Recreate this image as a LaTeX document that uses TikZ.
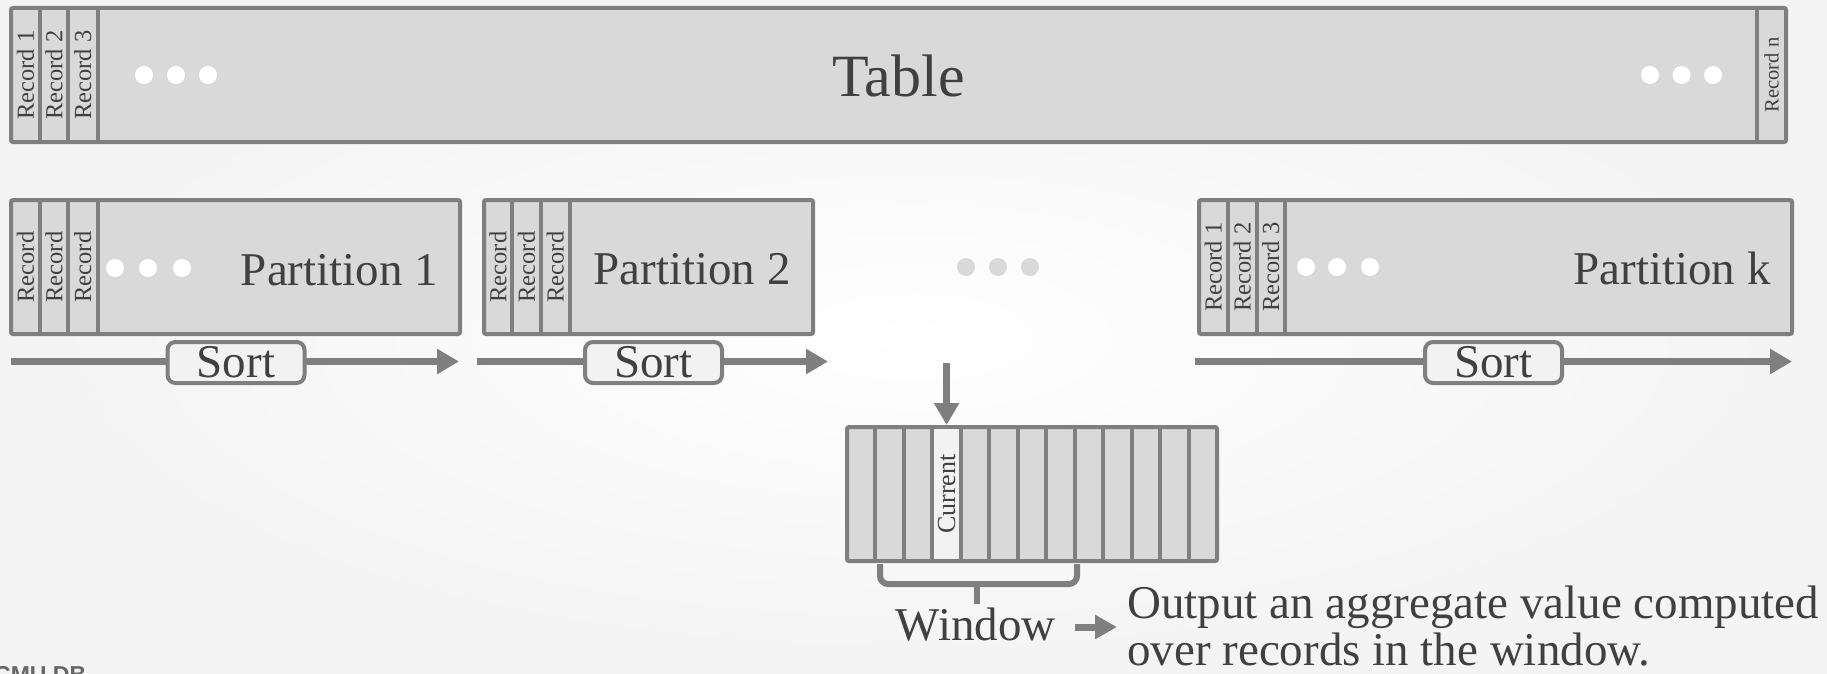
\documentclass[tikz,border=0pt]{standalone}
\usepackage{fontspec}
\setmainfont{Liberation Serif}
\newfontfamily\footfont{Liberation Sans}
\usetikzlibrary{arrows.meta}
\definecolor{bord}{HTML}{7F7F7F}
\definecolor{boxfill}{HTML}{D9D9D9}
\definecolor{lightfill}{HTML}{F2F2F2}
\definecolor{txt}{HTML}{404040}
\definecolor{footc}{HTML}{666666}
\tikzset{
 box/.style={rectangle, draw=bord, fill=boxfill, line width=4pt, rounded corners=2pt, inner sep=0pt, outer sep=0pt},
 divline/.style={draw=bord, line width=4pt},
 wdot/.style={circle, fill=white, minimum size=18pt, inner sep=0pt},
 gdot/.style={wdot, fill=boxfill},
 rec/.style={rotate=90, text=txt, inner sep=0pt, font=\fontsize{24.5}{24.5}\selectfont},
 bigtxt/.style={text=txt, inner sep=0pt, font=\fontsize{47}{47}\selectfont},
 sortbox/.style={rectangle, draw=bord, fill=lightfill, line width=4pt, rounded corners=8pt, minimum width=137pt, minimum height=41pt, inner sep=0pt, text=txt, font=\fontsize{47}{47}\selectfont},
 flow/.style={draw=bord, line width=7pt, -{Triangle[length=22pt,width=24pt]}},
 bracel/.style={draw=bord, line width=6pt},
}
\begin{document}
\begin{tikzpicture}[x=1pt,y=-1pt]
\useasboundingbox (0,0) rectangle (1827,674);
\shade[inner color=white, outer color=gray!9] (0,0) rectangle (1827,674);

% ---------- Table ----------
\node[box, minimum width=1775pt, minimum height=134pt] (table) at (898.5,75) {};
\foreach \x in {40,68,97.5,1757.3} \draw[divline] (\x,8) -- (\x,142);
\node[rec] (t1) at (25.5,75) {Record 1};
\node[rec] (t2) at (54,75) {Record 2};
\node[rec] (t3) at (82.75,75) {Record 3};
\node[rec, font=\fontsize{20.5}{20.5}\selectfont] (tn) at (1771.6,75) {Record n};
\node[wdot] (td1) at (144,75) {};
\node[wdot] (td2) at (176,75) {};
\node[wdot] (td3) at (208,75) {};
\node[wdot] (td4) at (1650,75) {};
\node[wdot] (td5) at (1681.5,75) {};
\node[wdot] (td6) at (1713,75) {};
\node[text=txt, inner sep=0pt, font=\fontsize{60}{60}\selectfont, anchor=base] (tabletxt) at (898.5,97) {Table};

% ---------- Partition 1 ----------
\node[box, minimum width=449pt, minimum height=134pt] (p1) at (235.5,267) {};
\foreach \x in {40,68,97.5} \draw[divline] (\x,200) -- (\x,334);
\node[rec] (p1r1) at (25.5,267) {Record};
\node[rec] (p1r2) at (54,267) {Record};
\node[rec] (p1r3) at (82.75,267) {Record};
\node[wdot] (p1d1) at (115,268) {};
\node[wdot] (p1d2) at (148,268) {};
\node[wdot] (p1d3) at (182,268) {};
\node[bigtxt, anchor=base] (p1txt) at (339.5,285) {Partition 1};

% ---------- Partition 2 ----------
\node[box, minimum width=329pt, minimum height=134pt] (p2) at (648.5,267) {};
\foreach \x in {512.3,540.7,570} \draw[divline] (\x,200) -- (\x,334);
\node[rec] (p2r1) at (498,267) {Record};
\node[rec] (p2r2) at (526.5,267) {Record};
\node[rec] (p2r3) at (555.3,267) {Record};
\node[bigtxt, anchor=base] (p2txt) at (692,284) {Partition 2};

% ---------- middle dots ----------
\node[gdot] (md1) at (966,267) {};
\node[gdot] (md2) at (998,267) {};
\node[gdot] (md3) at (1030,267) {};

% ---------- Partition k ----------
\node[box, minimum width=593pt, minimum height=134pt] (pk) at (1495.5,267) {};
\foreach \x in {1227.7,1256.7,1285} \draw[divline] (\x,200) -- (\x,334);
\node[rec] (pkr1) at (1213.3,267) {Record 1};
\node[rec] (pkr2) at (1242.2,267) {Record 2};
\node[rec] (pkr3) at (1270.8,267) {Record 3};
\node[wdot] (pkd1) at (1306,267) {};
\node[wdot] (pkd2) at (1337,267) {};
\node[wdot] (pkd3) at (1370,267) {};
\node[bigtxt, anchor=base] (pktxt) at (1672,284) {Partition k};

% ---------- Sort arrows ----------
\coordinate (s1a) at (11,361.5);
\coordinate (s1b) at (459,361.5);
\coordinate (s2a) at (477,361.5);
\coordinate (s2b) at (828,361.5);
\coordinate (ska) at (1195,361.5);
\coordinate (skb) at (1792,361.5);
\draw[flow] (s1a) -- (s1b);
\draw[flow] (s2a) -- (s2b);
\draw[flow] (ska) -- (skb);
\node[sortbox] (sort1) at (236,362.5) {Sort};
\node[sortbox] (sort2) at (653.5,362.5) {Sort};
\node[sortbox] (sortk) at (1493.5,362.5) {Sort};

% ---------- Window ----------
\node[box, minimum width=370pt, minimum height=134pt] (win) at (1032,494) {};
\fill[lightfill] (932.4,429) rectangle (960.8,559);
\foreach \i in {1,...,12} \draw[divline] ({847+28.4615*\i},427) -- ({847+28.4615*\i},561);
\node[rec, font=\fontsize{26}{26}\selectfont] (cur) at (946.6,494) {Current};
\coordinate (downstart) at (946.6,363);
\coordinate (curtop) at (946.6,425);
\draw[flow] (downstart) -- (curtop);

% brace
\coordinate (bl) at (880,564);
\coordinate (br) at (1077,564);
\draw[bracel, rounded corners=8pt] (bl) -- (880,584) -- (1077,584) -- (br);
\coordinate (bm) at (977,584);
\coordinate (bt) at (977,604);
\draw[bracel] (bm) -- (bt);

\node[bigtxt, anchor=base] (wintxt) at (975.5,640) {Window};
\coordinate (wa) at (1075,627);
\coordinate (wb) at (1117,627);
\draw[draw=bord, line width=7pt, -{Triangle[length=22pt,width=23pt]}] (wa) -- (wb);

\node[bigtxt, anchor=base west] (out1) at (1127,618) {Output an aggregate value computed};
\node[bigtxt, anchor=base west] (out2) at (1127,665) {over records in the window.};

% footer (cut by page edge)
\node[anchor=base west, inner sep=0pt, text=footc, font=\footfont\bfseries\fontsize{23}{23}\selectfont] (foot) at (-6,682) {CMU DB};
\end{tikzpicture}
\end{document}
